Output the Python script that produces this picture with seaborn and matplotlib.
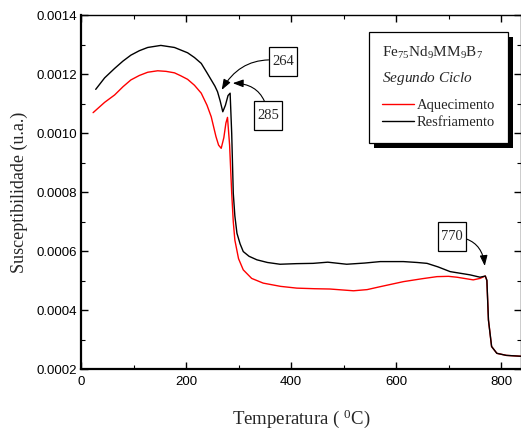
import matplotlib
matplotlib.use("Agg")
import matplotlib.pyplot as plt
from matplotlib.ticker import MultipleLocator, FormatStrFormatter
from matplotlib.patches import Rectangle
from matplotlib.path import Path
import seaborn as sns
import numpy as np

# ---- data ----
temp_aquec = [23, 45, 64, 80, 95, 111, 127, 146, 162, 178, 190, 203, 216, 229, 240, 248,
              257, 262, 267, 272, 276, 279, 283, 287, 290, 293, 300, 309, 325, 347, 380,
              411, 445, 474, 519, 545, 570, 614, 650, 678, 700, 716, 747, 760, 770, 773,
              776, 782, 792, 810, 838]
susc_aquec = [0.001070, 0.001105, 0.001130, 0.001158, 0.001181, 0.001196, 0.001207, 0.001212,
              0.001210, 0.001205, 0.001195, 0.001183, 0.001163, 0.001136, 0.001095, 0.001056,
              0.000989, 0.000960, 0.000949, 0.000985, 0.001035, 0.001054, 0.000960, 0.000797,
              0.000700, 0.000638, 0.000575, 0.000537, 0.000508, 0.000492, 0.000481,
              0.000475, 0.000473, 0.000472, 0.000466, 0.000470, 0.000480, 0.000497, 0.000507,
              0.000514, 0.000515, 0.000512, 0.000503, 0.000508, 0.000516, 0.000500,
              0.000367, 0.000277, 0.000254, 0.000247, 0.000244]

temp_resfr = [28, 45, 64, 80, 95, 111, 127, 152, 178, 203, 216, 229, 240, 248, 255, 260,
              265, 270, 275, 280, 284, 287, 290, 293, 297, 303, 309, 320, 335, 355, 379,
              410, 442, 470, 506, 540, 570, 614, 640, 659, 680, 703, 741, 760, 770, 773,
              776, 782, 792, 810, 838]
susc_resfr = [0.001149, 0.001188, 0.001220, 0.001245, 0.001265, 0.001280, 0.001291, 0.001298,
              0.001291, 0.001273, 0.001257, 0.001237, 0.001205, 0.001181, 0.001160, 0.001141,
              0.001110, 0.001073, 0.001095, 0.001128, 0.001136, 0.001000, 0.000797, 0.000720,
              0.000661, 0.000625, 0.000599, 0.000583, 0.000571, 0.000562, 0.000556,
              0.000558, 0.000559, 0.000563, 0.000556, 0.000560, 0.000565, 0.000565, 0.000562,
              0.000559, 0.000547, 0.000531, 0.000520, 0.000512, 0.000516, 0.000502,
              0.000367, 0.000277, 0.000254, 0.000247, 0.000244]

serie_labels = ["Aquecimento", "Resfriamento"]
serie_colors = ["#ff0000", "#000000"]
legend_title_1 = r"Fe$_{75}$Nd$_{9}$MM$_{9}$B$_{7}$"
legend_title_2 = r"$\mathit{Segundo\ Ciclo}$"
annot_labels = ["264", "285", "770"]
annot_text_xy = [(385, 0.001245), (356, 0.001059), (707, 0.000649)]
annot_tip_xy = [(268, 0.001147), (289, 0.001170), (769, 0.000550)]
annot_rad = [0.35, 0.45, -0.45]

# ---- style ----
sns.set_theme(style="ticks")
plt.rcParams["font.family"] = ["Liberation Serif", "DejaVu Serif"]
plt.rcParams["mathtext.fontset"] = "custom"
plt.rcParams["mathtext.rm"] = "Liberation Serif"
plt.rcParams["mathtext.it"] = "Liberation Serif:italic"
plt.rcParams["mathtext.bf"] = "Liberation Serif:bold"


def tall_box(x0, y0, width, height, mutation_size):
    """Rectangular box, narrow horizontally and tall vertically (as in the reference)."""
    px = 0.22 * mutation_size
    py = 0.55 * mutation_size
    xa, xb = x0 - px, x0 + width + px
    ya, yb = y0 - py, y0 + height + py
    return Path([(xa, ya), (xb, ya), (xb, yb), (xa, yb), (xa, ya)], closed=True)


fig = plt.figure(figsize=(5.21, 4.38), dpi=100)
ax = fig.add_axes([0.1555, 0.157, 0.8445, 0.808])

sns.lineplot(x=temp_aquec, y=susc_aquec, ax=ax, color=serie_colors[0], lw=1.0,
             estimator=None, label=serie_labels[0])
sns.lineplot(x=temp_resfr, y=susc_resfr, ax=ax, color=serie_colors[1], lw=1.0,
             estimator=None, label=serie_labels[1])

ax.set_xlim(0, 838)
ax.set_ylim(0.0002, 0.0014)
ax.xaxis.set_major_locator(MultipleLocator(200))
ax.xaxis.set_minor_locator(MultipleLocator(100))
ax.yaxis.set_major_locator(MultipleLocator(0.0002))
ax.yaxis.set_minor_locator(MultipleLocator(0.0001))
ax.yaxis.set_major_formatter(FormatStrFormatter("%.4f"))
ax.xaxis.set_major_formatter(FormatStrFormatter("%d"))

ax.tick_params(which="both", direction="in", top=True, right=True, colors="black")
ax.tick_params(which="major", length=5, width=1.0, labelsize=9.5, pad=3)
ax.tick_params(axis="x", which="major", pad=5)
ax.tick_params(which="minor", length=3, width=0.8)
for lab in ax.get_xticklabels() + ax.get_yticklabels():
    lab.set_fontfamily(["Liberation Sans", "DejaVu Sans"])
for side in ["left", "bottom"]:
    ax.spines[side].set_linewidth(1.6)
for side in ["top", "right"]:
    ax.spines[side].set_linewidth(1.0)
for s in ax.spines.values():
    s.set_color("black")

ax.set_ylabel("Susceptibilidade (u.a.)", fontsize=13, labelpad=6)
ax.set_xlabel(r"Temperatura ( $^{0}$C)", fontsize=13.5, labelpad=14)

# annotations
for lab, txy, pxy, rad in zip(annot_labels, annot_text_xy, annot_tip_xy, annot_rad):
    ax.annotate(lab, xy=pxy, xytext=txy, fontsize=10.5, ha="center", va="center",
                bbox=dict(boxstyle=tall_box, fc="white", ec="black", lw=0.9),
                arrowprops=dict(arrowstyle="-|>,head_length=0.6,head_width=0.22",
                                color="black", lw=0.8, shrinkA=0, shrinkB=0,
                                connectionstyle=f"arc3,rad={rad}"))

# legend
handles, labels = ax.get_legend_handles_labels()
leg = ax.legend(handles, labels, title=legend_title_1 + "\n" + legend_title_2,
                loc="upper right", bbox_to_anchor=(0.971, 0.954), borderaxespad=0,
                frameon=True, fancybox=False, framealpha=1, edgecolor="black",
                fontsize=10.5, title_fontsize=11, alignment="left",
                handlelength=2.2, handletextpad=0.2, labelspacing=0.3,
                borderpad=0.9)
leg.get_frame().set_linewidth(0.9)
leg.get_title().set_linespacing(1.75)
leg._legend_box.sep = 8.5
leg.set_zorder(6)

fig.canvas.draw()
bb = leg.get_window_extent().transformed(ax.transAxes.inverted())
dx = 5 / (ax.bbox.width)
dy = 5 / (ax.bbox.height)
ax.add_patch(Rectangle((bb.x0 + dx, bb.y0 - dy), bb.width, bb.height,
                       transform=ax.transAxes, fc="black", ec="none",
                       zorder=5.9, clip_on=False))

fig.savefig("out.png", dpi=100)
